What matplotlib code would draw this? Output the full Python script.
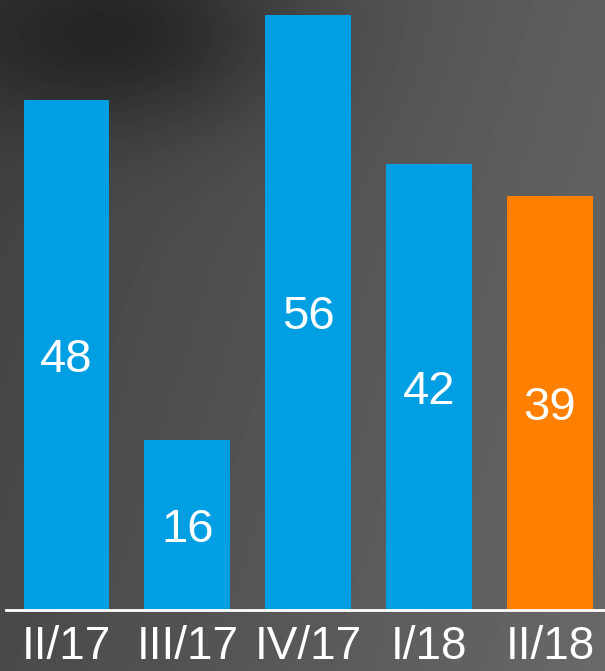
import numpy as np
import matplotlib.pyplot as plt

quarters = ["II/17", "III/17", "IV/17", "I/18", "II/18"]
values = [48, 16, 56, 42, 39]
colors = ["#009EE3", "#009EE3", "#009EE3", "#009EE3", "#FF7F00"]

plt.rcParams["font.family"] = ["Liberation Sans", "DejaVu Sans"]

fig = plt.figure(figsize=(6.05, 6.71), dpi=100)

# dark-to-grey backdrop
bg = fig.add_axes([0, 0, 1, 1])
yy, xx = np.mgrid[0:1:200j, 0:1:200j]
shade = 0.25 + 0.12 * xx + 0.04 * yy - 0.13 * np.exp(-((xx - 0.2) ** 2 / 0.08 + (yy - 0.05) ** 2 / 0.02))
shade = np.clip(shade, 0, 1)
bg.imshow(shade, cmap="gray", vmin=0, vmax=1, aspect="auto", extent=[0, 1, 0, 1], origin="upper")
bg.axis("off")

ax = fig.add_axes([6 / 605, 61 / 671, 599 / 605, 610 / 671])
ax.patch.set_alpha(0)
x = np.arange(len(quarters))
bars = ax.bar(x, values, width=0.71, color=colors)
for b, v in zip(bars, values):
    ax.text(b.get_x() + b.get_width() / 2, v / 2, str(v), ha="center", va="center_baseline",
            color="white", fontsize=34)

ax.set_xlim(-0.5, 4.455)
ax.set_ylim(0, 57.4)
for s in ["top", "right", "left"]:
    ax.spines[s].set_visible(False)
ax.spines["bottom"].set_color("white")
ax.spines["bottom"].set_linewidth(2)
ax.set_yticks([])
ax.set_xticks(x)
ax.set_xticklabels(quarters, color="white", fontsize=33)
ax.tick_params(axis="x", length=0, pad=11)

fig.savefig("out.png", dpi=100)
